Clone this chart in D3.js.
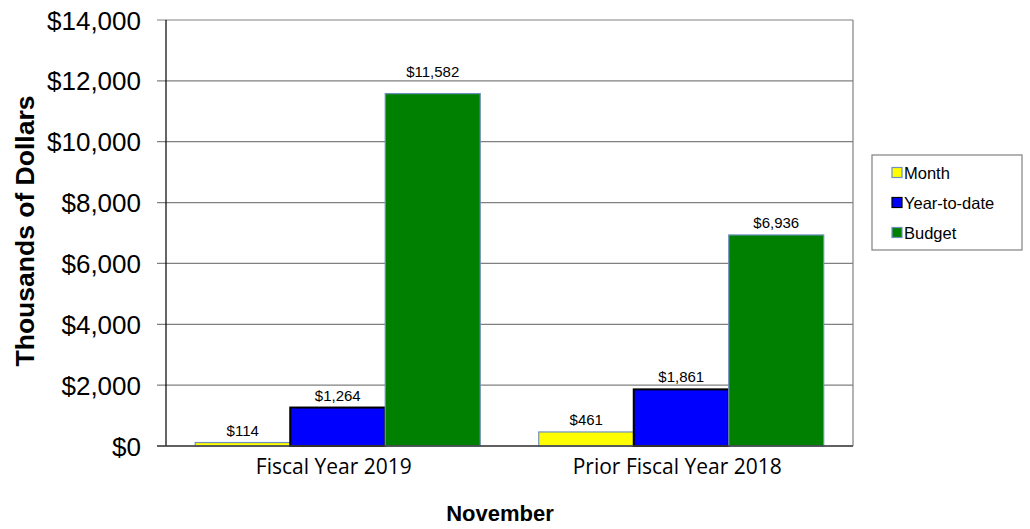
<!DOCTYPE html>
<html>
<head>
<meta charset="utf-8">
<script src="https://cdn.jsdelivr.net/npm/d3@7"></script>
<style>
  body { margin: 0; background: #fff; }
  svg { display: block; }
</style>
</head>
<body>
<svg width="1030" height="529"></svg>
<script>
// data
var categories = ["Fiscal Year 2019", "Prior Fiscal Year 2018"];
var seriesNames = ["Month", "Year-to-date", "Budget"];
var month = [114, 461];
var yearToDate = [1264, 1861];
var budget = [11582, 6936];
var yTicks = [0, 2000, 4000, 6000, 8000, 10000, 12000, 14000];

var fills = {"Month": "#ffff00", "Year-to-date": "#0000ff", "Budget": "#008000"};
var strokes = {"Month": "#6f8fc0", "Year-to-date": "#000000", "Budget": "#6f8fc0"};

var svg = d3.select("svg"),
    margin = {top: 20, right: 177, bottom: 83, left: 166},
    width = 1030 - margin.left - margin.right,
    height = 529 - margin.top - margin.bottom;

var rows = categories.map(function(c, i) {
  return {cat: c, vals: [
    {key: "Month", v: month[i]},
    {key: "Year-to-date", v: yearToDate[i]},
    {key: "Budget", v: budget[i]}
  ]};
});

var g = svg.append("g").attr("transform", `translate(${margin.left},${margin.top})`);

var x0 = d3.scaleBand().domain(categories).range([0, width]).padding(0);
var x1 = d3.scaleBand().domain(seriesNames).range([0, x0.bandwidth()])
  .paddingInner(0).paddingOuter(0.308);
var y = d3.scaleLinear().domain([0, 14000]).range([height, 0]);

var fmt = d3.format("$,");

// gridlines
g.selectAll(".grid").data(yTicks).join("line")
  .attr("x1", -9).attr("x2", width)
  .attr("y1", d => y(d)).attr("y2", d => y(d))
  .attr("stroke", "#808080").attr("stroke-width", 1.2);

// right border
g.append("line").attr("x1", width).attr("x2", width).attr("y1", 0).attr("y2", height)
  .attr("stroke", "#808080").attr("stroke-width", 1.2);

// y axis labels
var yAxis = g.append("g").call(d3.axisLeft(y).tickValues(yTicks).tickFormat(fmt).tickSize(0).tickPadding(25));
yAxis.select(".domain").remove();
yAxis.selectAll("text").attr("font-family", "Arial, 'Liberation Sans', sans-serif")
  .attr("font-size", 26).attr("fill", "#000").attr("dy", "0.35em");

// bars
var groups = g.selectAll(".grp").data(rows).join("g")
  .attr("transform", d => `translate(${x0(d.cat)},0)`);

groups.selectAll("rect").data(d => d.vals).join("rect")
  .attr("x", d => x1(d.key))
  .attr("y", d => y(d.v))
  .attr("width", x1.bandwidth())
  .attr("height", d => height - y(d.v))
  .attr("fill", d => fills[d.key])
  .attr("stroke", d => strokes[d.key])
  .attr("stroke-width", d => d.key === "Year-to-date" ? 2 : 1.2);

// value labels, kept off a gridline when they would sit on one
groups.selectAll(".lbl").data(d => d.vals).join("text")
  .attr("x", d => x1(d.key) + x1.bandwidth() / 2)
  .attr("y", function(d) {
    var base = y(d.v) - 7;
    yTicks.forEach(function(t) {
      var gy = y(t);
      if (t > 0 && gy > base - 10 && gy < base + 2) base = gy - 4;
    });
    return base;
  })
  .attr("text-anchor", "middle")
  .attr("font-family", "Arial, 'Liberation Sans', sans-serif")
  .attr("font-size", 15).attr("fill", "#000")
  .text(d => fmt(d.v));

// axes lines
g.append("line").attr("x1", 0).attr("x2", 0).attr("y1", 0).attr("y2", height)
  .attr("stroke", "#000").attr("stroke-width", 1.2);
g.append("line").attr("x1", -9).attr("x2", width).attr("y1", height).attr("y2", height)
  .attr("stroke", "#404040").attr("stroke-width", 1.5);

// category labels
var xAxis = g.append("g").attr("transform", `translate(0,${height})`)
  .call(d3.axisBottom(x0).tickSize(0).tickPadding(13));
xAxis.select(".domain").remove();
xAxis.selectAll("text").attr("font-family", "'Open Sans', 'Noto Sans', sans-serif")
  .attr("font-size", 21).attr("fill", "#000").attr("dx", -4);

// axis titles
svg.append("text")
  .attr("transform", "translate(34,231)rotate(-90)")
  .attr("text-anchor", "middle")
  .attr("font-family", "Arial, 'Liberation Sans', sans-serif")
  .attr("font-weight", "bold").attr("font-size", 26.5)
  .text("Thousands of Dollars");

svg.append("text")
  .attr("x", 500).attr("y", 521)
  .attr("text-anchor", "middle")
  .attr("font-family", "Arial, 'Liberation Sans', sans-serif")
  .attr("font-weight", "bold").attr("font-size", 22)
  .text("November");

// legend
var leg = svg.append("g").attr("transform", "translate(872,155)");
leg.append("rect").attr("width", 150).attr("height", 95)
  .attr("fill", "#fff").attr("stroke", "#808080").attr("stroke-width", 1.2);
var items = leg.selectAll(".it").data(seriesNames).join("g")
  .attr("transform", (d, i) => `translate(20,${18 + i * 30})`);
items.append("rect").attr("x", 0).attr("y", -5.5).attr("width", 10).attr("height", 10)
  .attr("fill", d => fills[d]).attr("stroke", d => strokes[d]).attr("stroke-width", 1.2);
items.append("text").attr("x", 12).attr("y", 0).attr("dy", "0.35em")
  .attr("font-family", "Arial, 'Liberation Sans', sans-serif")
  .attr("font-size", 16.5).attr("fill", "#000")
  .text(d => d);
</script>
</body>
</html>
